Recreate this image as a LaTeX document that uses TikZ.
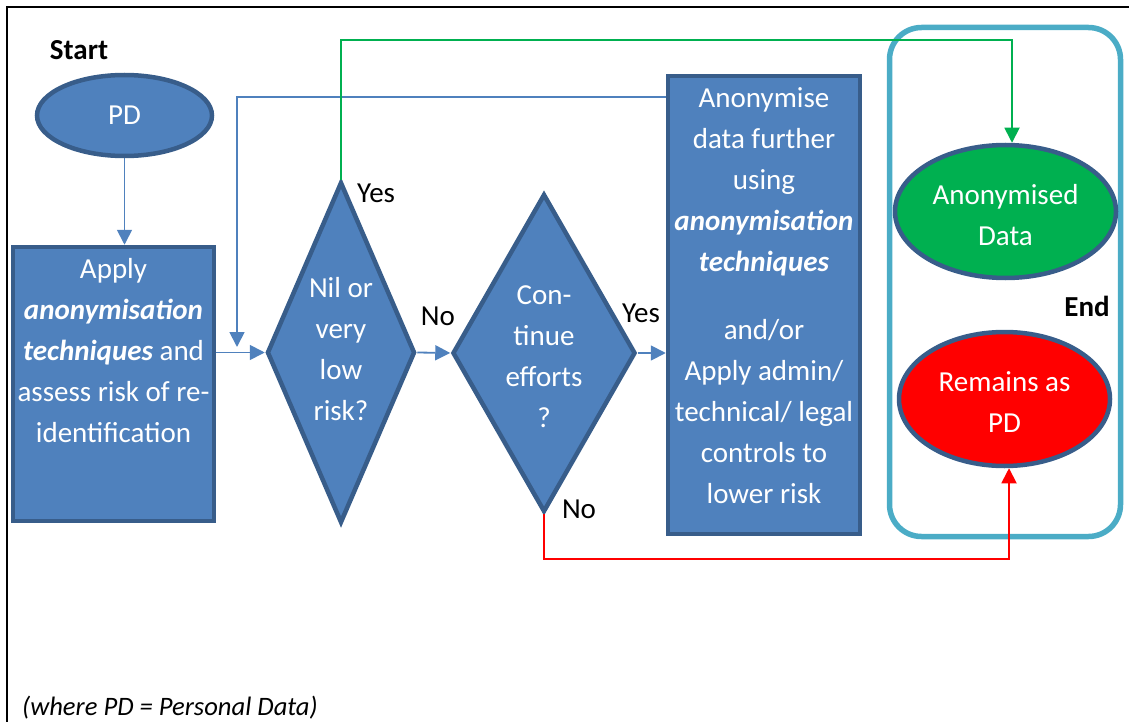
\documentclass[tikz,border=0pt]{standalone}
\usepackage{fontspec}
\setmainfont{Carlito}
\usetikzlibrary{shapes.geometric,arrows.meta}
\definecolor{boxfill}{HTML}{4F81BD}
\definecolor{boxline}{HTML}{385D8A}
\definecolor{teal}{HTML}{4BACC6}
\definecolor{grn}{HTML}{00B050}
\definecolor{rd}{HTML}{FF0000}
\tikzset{
  big/.style={font=\fontsize{29}{41}\selectfont},
  shapebox/.style={draw=boxline, line width=4.5pt, fill=boxfill, inner sep=0pt},
  rectbox/.style={shapebox, rectangle},
  dmd/.style={shapebox, diamond},
  ell/.style={draw=boxline, line width=4.5pt, ellipse, inner sep=0pt},
  wtext/.style={big, text=white, align=center, inner sep=0pt},
  btext/.style={big, text=black, inner sep=0pt},
  conn/.style={line width=1.8pt, -{Triangle[width=15pt,length=15pt]}},
  bconn/.style={conn, draw=boxfill},
}
\begin{document}
\begin{tikzpicture}[x=1pt,y=-1pt]
\useasboundingbox (0,0) rectangle (1129,722);
% page frame (top and left)
\draw[line width=2pt] (7,722) -- (7,7) -- (1129,7);

% End group frame
\node[draw=teal, line width=5.5pt, rounded corners=32pt, minimum width=231pt, minimum height=509pt, inner sep=0pt] (grp) at (1005,282) {};

% shapes
\node[ell, fill=boxfill, minimum width=175pt, minimum height=81pt] (pd) at (124.5,115.5) {};
\node[wtext] at (pd.center) {PD};

\node[rectbox, minimum width=201pt, minimum height=274pt] (apply) at (113.5,384) {};
\node[wtext] at (113.5,351) {Apply\\\textbf{\textit{anonymisation}}\\\textbf{\textit{techniques}} and\\assess risk of re-\\identification};

\node[dmd, minimum width=148pt, minimum height=341pt] (nil) at (341,352.5) {};
\node[wtext] at (341,349) {Nil or\\very\\low\\risk?};

\node[dmd, minimum width=183pt, minimum height=318pt] (cont) at (544,353) {};
\node[wtext] at (544,357) {Con-\\tinue\\efforts\\?};

\node[rectbox, minimum width=192pt, minimum height=458pt] (anon) at (764,305) {};
\node[wtext] at (764,296) {Anonymise\\data further\\using\\\textbf{\textit{anonymisation}}\\\textbf{\textit{techniques}}\\[27pt]and/or\\Apply admin/\\technical/ legal\\controls to\\lower risk};

\node[ell, fill=grn, minimum width=221pt, minimum height=133pt] (ella) at (1005.5,211.5) {};
\node[wtext] at (1005.5,215) {Anonymised\\Data};

\node[ell, fill=rd, minimum width=211pt, minimum height=134pt] (ellr) at (1004.5,399) {};
\node[wtext] at (1004.5,402) {Remains as\\PD};

% labels
\node[btext, font=\fontsize{29}{41}\selectfont\bfseries] (start) at (79,50) {Start};
\node[btext, font=\fontsize{29}{41}\selectfont\bfseries] (endl) at (1087,306) {End};
\node[btext, anchor=west] (yes1) at (357,193) {Yes};
\node[btext] (no1) at (438,316) {No};
\node[btext] (yes2) at (641,313) {Yes};
\node[btext] (no2) at (579,509) {No};
\node[btext, font=\fontsize{26.6}{30}\selectfont\itshape, anchor=base west] (note) at (22,715) {(where PD = Personal Data)};

% connectors
\coordinate (fbend) at (237,347);
\coordinate (gcorner) at (1012,40);
\coordinate (rcorner) at (1009,559);

\draw[bconn] (pd.south) -- (pd.south |- apply.north);
\draw[bconn] (nil.west -| apply.east) -- (nil.west);
\draw[bconn] ([yshift=-23pt]anon.north west) -| (fbend);
\draw[bconn] (nil.east) -- (cont.west);
\draw[bconn] (cont.east) -- (cont.east -| anon.west);
\draw[conn, draw=grn] (nil.north) |- (gcorner) -- (gcorner |- ella.north);
\draw[conn, draw=rd] (cont.south) |- (rcorner) -- (rcorner |- ellr.south);
\end{tikzpicture}
\end{document}
